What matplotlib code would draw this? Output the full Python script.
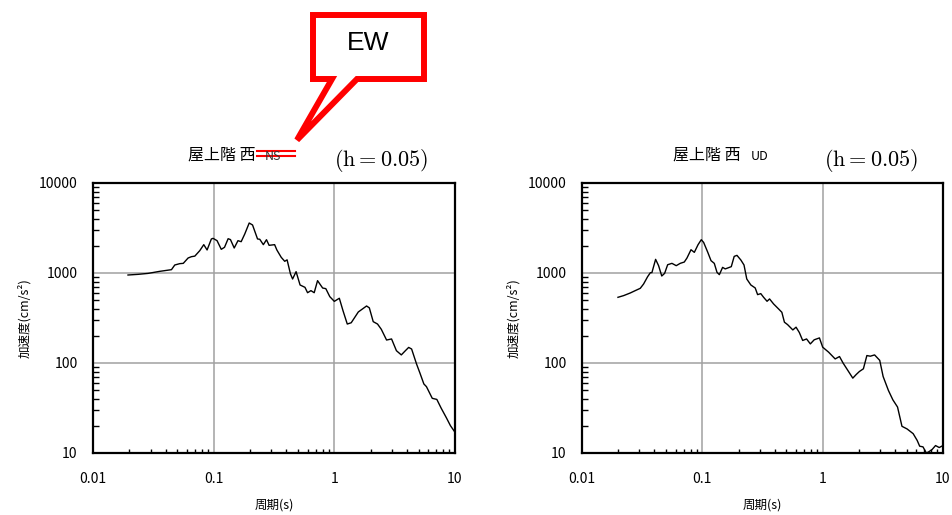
import matplotlib
matplotlib.use("Agg")
import matplotlib.pyplot as plt
import numpy as np
from matplotlib.patches import Polygon
from matplotlib.lines import Line2D
from matplotlib.ticker import LogLocator, NullFormatter, FixedLocator, FixedFormatter

plt.rcParams['font.family'] = ['Noto Sans CJK JP', 'DejaVu Sans']
plt.rcParams['mathtext.fontset'] = 'cm'

# Response spectrum, roof floor west, EW component (period s, acceleration cm/s^2)
period_ew = [0.0195, 0.0236, 0.0286, 0.0357, 0.0447, 0.0476, 0.0523, 0.056, 0.0614,
             0.0654, 0.0698, 0.0767, 0.0828, 0.0882, 0.0957, 0.0989, 0.1067, 0.1156,
             0.123, 0.1318, 0.1378, 0.148, 0.159, 0.169, 0.181, 0.197, 0.210, 0.231,
             0.241, 0.258, 0.274, 0.288, 0.320, 0.334, 0.363, 0.388, 0.406, 0.433,
             0.451, 0.482, 0.520, 0.571, 0.600, 0.640, 0.681, 0.726, 0.80, 0.85,
             0.917, 1.0, 1.10, 1.18, 1.28, 1.38, 1.58, 1.85, 1.95, 2.10, 2.28, 2.45,
             2.71, 2.98, 3.27, 3.59, 3.88, 4.13, 4.37, 4.80, 5.12, 5.52, 5.80, 6.48,
             7.07, 7.67, 8.5, 9.17, 10.0]
accel_ew = [950, 966, 990, 1043, 1089, 1227, 1270, 1280, 1468,
            1518, 1540, 1771, 2065, 1802, 2388, 2427, 2287, 1833,
            1929, 2405, 2350, 1896, 2287, 2228, 2713, 3593, 3416, 2388,
            2370, 2065, 2344, 2030, 2065, 1802, 1493, 1349, 1400, 975,
            858, 1035, 736, 693, 604, 637, 604, 822, 681, 670,
            546, 484, 524, 381, 271, 280, 369, 430, 410, 288, 271, 237,
            180, 185, 137, 123, 137, 149, 143, 97.5, 77.4, 58.5, 54.6, 40.5,
            39.4, 31.6, 24.5, 20.1, 17.0]

# Response spectrum, roof floor west, UD component
period_ud = [0.0199, 0.0222, 0.0252, 0.0277, 0.0305, 0.0325, 0.0351, 0.0370, 0.0381,
             0.0409, 0.0433, 0.046, 0.0486, 0.0515, 0.0559, 0.0607, 0.0655, 0.0708,
             0.0745, 0.0805, 0.0858, 0.0921, 0.098, 0.1025, 0.111, 0.1181, 0.1257,
             0.1324, 0.1385, 0.1474, 0.155, 0.174, 0.184, 0.194, 0.209, 0.222, 0.234,
             0.253, 0.275, 0.288, 0.306, 0.323, 0.345, 0.362, 0.391, 0.430, 0.458,
             0.481, 0.511, 0.565, 0.601, 0.640, 0.682, 0.735, 0.79, 0.85, 0.94, 1.0,
             1.12, 1.27, 1.38, 1.48, 1.64, 1.78, 1.90, 2.02, 2.18, 2.33, 2.49, 2.70,
             2.98, 3.18, 3.52, 3.83, 4.19, 4.56, 5.03, 5.65, 6.1, 6.4, 6.82, 7.27,
             7.6, 8.1, 8.67, 9.3, 10.0]
accel_ud = [537, 561, 600, 637, 676, 755, 910, 1008, 1010,
            1418, 1206, 926, 991, 1236, 1280, 1206, 1280, 1324,
            1466, 1814, 1696, 2061, 2344, 2188, 1696, 1371, 1280,
            1017, 959, 1155, 1110, 1176, 1530, 1570, 1394, 1227, 858,
            736, 682, 575, 590, 537, 485, 515, 453, 399, 366,
            284, 267, 233, 250, 218, 178, 185, 163, 181, 190, 150,
            132, 111, 118, 99.6, 80.5, 67.9, 74.5, 80.5, 86.2, 121, 119, 123,
            107, 70.8, 49.5, 39, 32.4, 19.8, 18.5, 16.4, 13.8, 11.9, 11.7, 10,
            10.3, 10.9, 12.1, 11.5, 12.1]

x_ticks = [0.01, 0.1, 1, 10]
x_ticklabels = ['0.01', '0.1', '1', '10']
y_ticks = [10, 100, 1000, 10000]
y_ticklabels = ['10', '100', '1000', '10000']

title_main = '屋上階 西'
components = ['NS', 'UD']
damping_label = r'$\mathrm{(h=0.05)}$'
callout_text = 'EW'
ylabel_text = '加速度(cm/s²)'
xlabel_text = '周期(s)'

W, H = 953, 515
fig = plt.figure(figsize=(W / 100, H / 100), dpi=100)


def px(x, y):
    return (x / W, 1 - y / H)


def make_axes(left_px, right_px, period, accel):
    l, b = px(left_px, 453)
    ax = fig.add_axes([l, b, (right_px - left_px) / W, 270 / H])
    ax.set_xscale('log')
    ax.set_yscale('log')
    ax.set_xlim(0.01, 10)
    ax.set_ylim(10, 10000)
    ax.plot(period, accel, color='black', lw=1.0, solid_joinstyle='round')
    ax.xaxis.set_major_locator(FixedLocator(x_ticks))
    ax.xaxis.set_major_formatter(FixedFormatter(x_ticklabels))
    ax.yaxis.set_major_locator(FixedLocator(y_ticks))
    ax.yaxis.set_major_formatter(FixedFormatter(y_ticklabels))
    ax.xaxis.set_minor_locator(LogLocator(base=10, subs=np.arange(2, 10), numticks=20))
    ax.yaxis.set_minor_locator(LogLocator(base=10, subs=np.arange(2, 10), numticks=20))
    ax.xaxis.set_minor_formatter(NullFormatter())
    ax.yaxis.set_minor_formatter(NullFormatter())
    ax.tick_params(which='major', direction='in', length=0, labelsize=10,
                   colors='black')
    ax.tick_params(axis='x', which='major', pad=14)
    ax.tick_params(axis='y', which='major', pad=11)
    ax.tick_params(axis='x', which='minor', direction='in', length=3, width=1)
    ax.tick_params(axis='y', which='minor', direction='in', length=4, width=1)
    ax.grid(True, which='major', color='#a0a0a0', lw=1.1)
    for s in ax.spines.values():
        s.set_linewidth(1.6)
        s.set_color('black')
    ax.set_ylabel(ylabel_text, fontsize=9)
    ax.yaxis.set_label_coords(-0.17, 0.5)
    ax.set_xlabel(xlabel_text, fontsize=9)
    ax.xaxis.set_label_coords(0.5, -0.17)
    return ax


ax1 = make_axes(93, 455, period_ew, accel_ew)
ax2 = make_axes(582, 943, period_ud, accel_ud)

# Titles above each panel
fig.text(*px(188, 159.5), title_main, fontsize=11.5, ha='left', va='baseline')
fig.text(*px(265, 159.5), components[0], fontsize=9, ha='left', va='baseline',
         color='#333333')
fig.text(*px(673, 159.5), title_main, fontsize=11.5, ha='left', va='baseline')
fig.text(*px(751, 159.5), components[1], fontsize=9, ha='left', va='baseline')
fig.text(*px(381, 161), damping_label, fontsize=16, ha='center', va='center')
fig.text(*px(871, 160), damping_label, fontsize=16, ha='center', va='center')

# Red strike-through over the NS component
for yy in (150.5, 155.5):
    x0, y0 = px(257, yy)
    x1, _ = px(295, yy)
    fig.add_artist(Line2D([x0, x1], [y0, y0], color='red', lw=1.5,
                          transform=fig.transFigure))

# Callout balloon with the corrected component
verts = [px(313, 15), px(424, 15), px(424, 79), px(357, 79), px(297, 140),
         px(332, 79), px(313, 79)]
fig.add_artist(Polygon(verts, closed=True, facecolor='white', edgecolor='red',
                       lw=4.3, joinstyle='miter', transform=fig.transFigure))
fig.text(*px(368, 43), callout_text, fontsize=19, ha='center', va='center',
         family=['Liberation Sans Narrow', 'Liberation Sans', 'DejaVu Sans'])

fig.savefig('out.png', dpi=100)
